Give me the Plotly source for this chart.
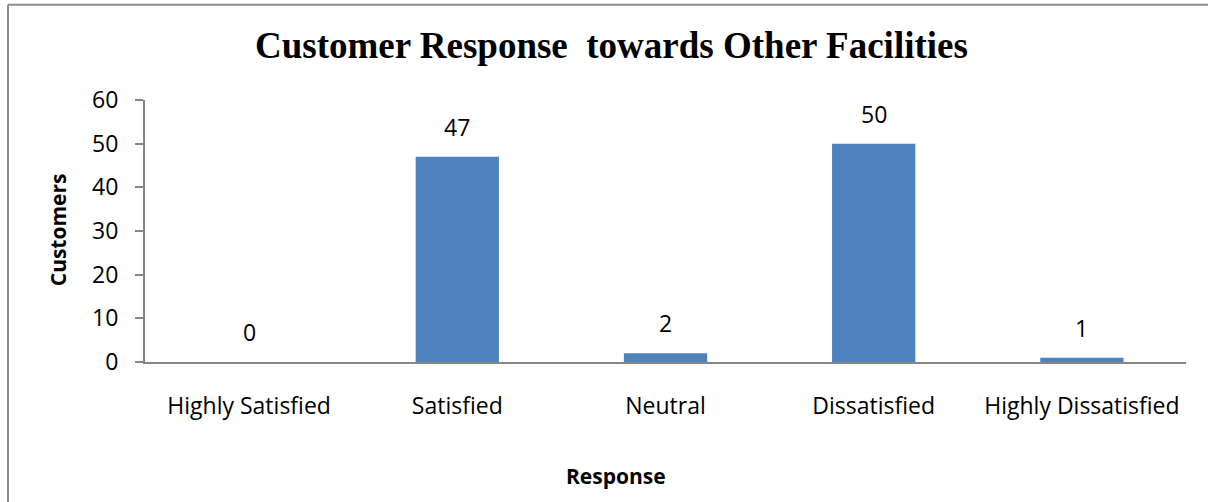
import plotly.graph_objects as go

categories = ["Highly Satisfied", "Satisfied", "Neutral", "Dissatisfied", "Highly Dissatisfied"]
customers = [0, 47, 2, 50, 1]
y_ticks = [0, 10, 20, 30, 40, 50, 60]

W, H = 1208, 502
L, R, T, B = 145, 22, 99.5, 140
pw, ph = W - L - R, H - T - B

def px(x):
    return (x - L) / pw

def py(y):
    return (H - B - y) / ph

bar_color = "#4F81BD"
axis_color = "#868686"
body_font = "Open Sans"

fig = go.Figure()
fig.add_trace(go.Bar(
    x=categories, y=customers, marker=dict(color=bar_color, line=dict(width=0)),
    width=0.4, showlegend=False,
))

for c, v in zip(categories, customers):
    fig.add_annotation(x=c, y=v, text=str(v), showarrow=False, yanchor="bottom",
                       yshift=12, font=dict(family=body_font, size=23, color="#000"))

fig.add_annotation(x=px(611), y=py(45), xref="paper", yref="paper",
                   xanchor="center", yanchor="middle",
                   text="<b>Customer Response  towards Other Facilities</b>", showarrow=False,
                   font=dict(family="Liberation Serif", size=37, color="#000"))
fig.add_annotation(x=px(58), y=py(230), xref="paper", yref="paper", textangle=-90,
                   xanchor="center", yanchor="middle",
                   text="<b>Customers</b>", showarrow=False,
                   font=dict(family=body_font, size=21, color="#000"))
fig.add_annotation(x=px(616), y=py(476), xref="paper", yref="paper",
                   xanchor="center", yanchor="middle",
                   text="<b>Response</b>", showarrow=False,
                   font=dict(family=body_font, size=21, color="#000"))

border = dict(color="#8C8C8C", width=2)
fig.add_shape(type="line", xref="paper", yref="paper",
              x0=px(8), x1=px(8), y0=py(4), y1=py(540), line=border, layer="below")
fig.add_shape(type="line", xref="paper", yref="paper",
              x0=px(8), x1=px(1260), y0=py(4), y1=py(4), line=border, layer="below")

fig.update_layout(
    width=W, height=H, margin=dict(l=L, r=R, t=T, b=B),
    plot_bgcolor="white", paper_bgcolor="white",
    xaxis=dict(showline=True, linecolor=axis_color, linewidth=2, ticks="",
               tickfont=dict(family=body_font, size=23, color="#000"),
               ticklabelstandoff=22, showgrid=False, zeroline=False),
    yaxis=dict(range=[0, 60], tickvals=y_ticks, showline=True, linecolor=axis_color, linewidth=2,
               ticks="outside", ticklen=8, tickcolor=axis_color, tickwidth=2,
               tickfont=dict(family=body_font, size=23, color="#000"),
               ticklabelstandoff=12, showgrid=False, zeroline=False),
    bargap=0.6,
)

fig.write_html("out.html", config={"displayModeBar": False},
               post_script="document.body.style.margin='0';document.body.style.overflow='hidden';document.documentElement.style.overflow='hidden';")
